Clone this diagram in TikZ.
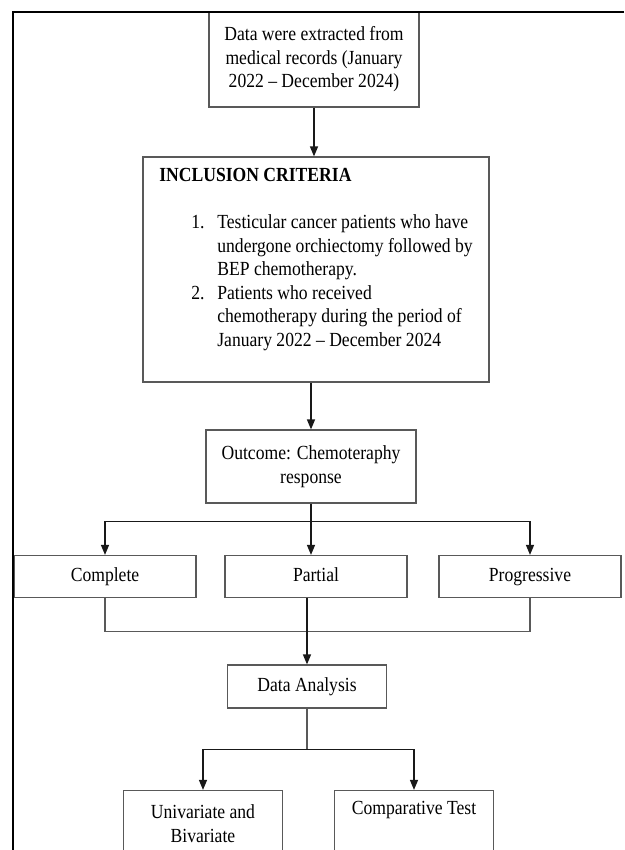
\documentclass[tikz,border=0pt]{standalone}
\usepackage{fontspec}
\setmainfont{Liberation Serif}[FakeStretch=0.88]
\usetikzlibrary{arrows.meta, calc}

\begin{document}
\begin{tikzpicture}[x=1pt, y=1pt, node distance=110pt]
        \tikzstyle{block} = [rectangle, minimum width=182pt, minimum height=42pt, inner sep=0pt, align=center, draw=black!65, line width=1.2pt, font=\fontsize{20}{23.5}\selectfont]
        \tikzstyle{single} = [block, text height=14pt, text depth=4.5pt]
        \tikzstyle{arrow} = [line width=1.4pt, draw=black!90, -{Triangle[length=10pt, width=8pt]}]
        \tikzstyle{link} = [line width=1.4pt, draw=black!65]
        \tikzstyle{frame} = [line width=2.2pt, draw=black]

        \useasboundingbox (-314,59.5) rectangle (310,-790.5);
        \clip (-314,59.5) rectangle (310,-790.5);

        \node (src) [block, minimum width=210pt, minimum height=95pt] {Data were extracted from\\medical records (January\\2022 -- December 2024)};
        \node (incl) [block, below of=src, yshift=-100pt, xshift=2pt, minimum width=346pt, minimum height=225pt, align=left] {\textbf{INCLUSION CRITERIA}\\[23.5pt]
            \hspace*{32pt}\makebox[26pt][l]{1.}Testicular cancer patients who have\\
            \hspace*{58pt}undergone orchiectomy followed by\\
            \hspace*{58pt}BEP chemotherapy.\\
            \hspace*{32pt}\makebox[26pt][l]{2.}Patients who received\\
            \hspace*{58pt}chemotherapy during the period of\\
            \hspace*{58pt}January 2022 -- December 2024\rule[-24pt]{0pt}{24pt}};
        \node (outc) [block, below of=incl, yshift=-87pt, xshift=-5pt, minimum width=210pt, minimum height=73pt] {Outcome: Chemoteraphy\\response};
        \node (part) [single, below of=outc, xshift=5pt] {Partial};
        \node (compl) [single, left of=part, xshift=-101pt] {Complete};
        \node (prog) [single, right of=part, xshift=104pt] {Progressive};
        \node (da) [single, below of=part, xshift=-9pt, minimum width=159pt, minimum height=43pt] {Data Analysis};
        \node (uni) [block, below of=da, yshift=-27pt, xshift=-104pt, minimum width=159pt, minimum height=66pt] {Univariate and\\Bivariate};
        \node (comp) [block, below of=da, yshift=-27pt, xshift=107pt, minimum width=159pt, minimum height=66pt] {Comparative Test\\\strut};

        % outer border of the page
        \draw [frame] (310,47.5) -| (-301,-790.5);

        \coordinate (fork) at ($(outc.south)+(0,-18)$);
        \coordinate (merge) at ($(da.north)+(0,33)$);
        \coordinate (fork2) at ($(da.south)+(0,-41)$);

        \draw [arrow] (src.south) -- (src.south |- incl.north);
        \draw [arrow] (outc.north |- incl.south) -- (outc.north);
        \draw [arrow] (outc.south) -- (outc.south |- part.north);
        \draw [arrow] (fork) -| (compl.north);
        \draw [arrow] (fork) -| (prog.north);
        \draw [link] (compl.south) |- (merge) -| (prog.south);
        \draw [arrow] (da.north |- part.south) -- (da.north);
        \draw [link] (da.south) -- (fork2);
        \draw [arrow] (fork2) -| (uni.north);
        \draw [arrow] (fork2) -| (comp.north);
\end{tikzpicture}
\end{document}
